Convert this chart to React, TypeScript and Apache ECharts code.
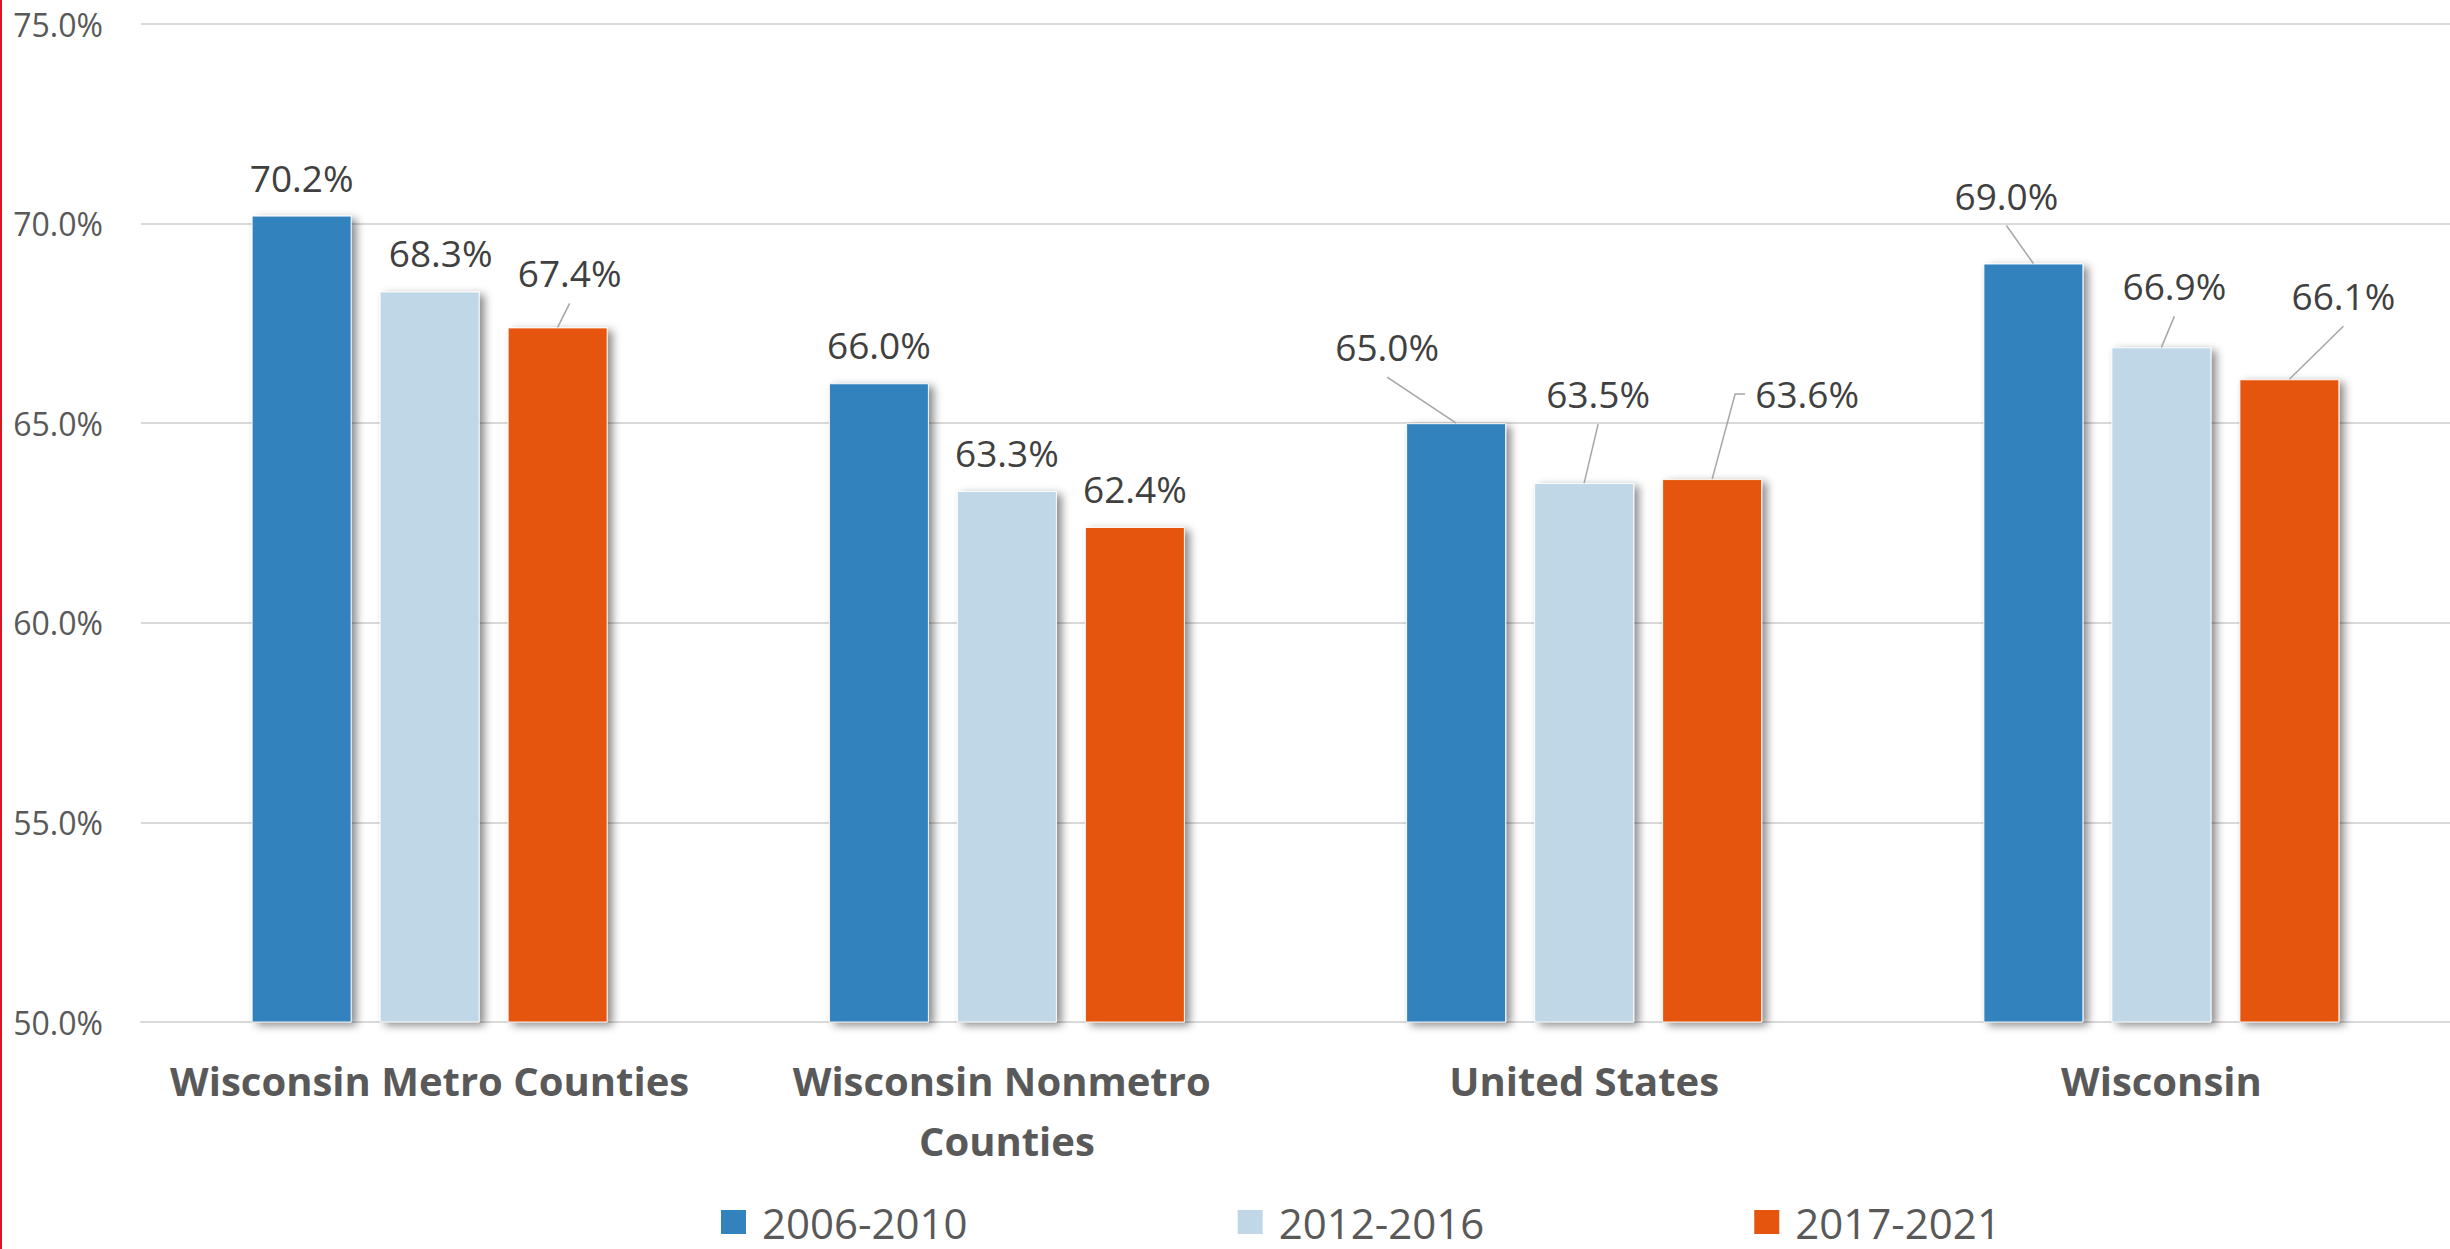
import React, { useEffect, useRef } from "react";
import * as echarts from "echarts";

const categories = [
  "Wisconsin Metro Counties",
  "Wisconsin Nonmetro Counties",
  "United States",
  "Wisconsin",
];
const seriesNames = ["2006-2010", "2012-2016", "2017-2021"];
const values2006_2010 = [70.2, 66.0, 65.0, 69.0];
const values2012_2016 = [68.3, 63.3, 63.5, 66.9];
const values2017_2021 = [67.4, 62.4, 63.6, 66.1];
const yTicks = { min: 50, max: 75, interval: 5 };

const seriesColors = ["#3182BD", "#BFD7E6", "#E6550D"];
// label displacement (dx, dy) and leader kind (0 none, 1 straight, 2 elbow), per series / category
const labelShift = [
  [[0, 0, 0], [0, 0, 0], [-69, -38, 1], [-27, -30, 1]],
  [[11, 0, 0], [0, 0, 0], [14, -51, 1], [13, -23, 1]],
  [[12, -16, 1], [0, 0, 0], [95, -47, 2], [54, -45, 1]],
];
const BAR_WIDTH = 100;
const BAR_GAP = 28;

export default function App() {
  const ref = useRef<HTMLDivElement>(null);
  useEffect(() => {
    if (!ref.current) return;
    const chart = echarts.init(ref.current, null, { renderer: "svg" });
    const allValues = [values2006_2010, values2012_2016, values2017_2021];
    const series: any[] = allValues.map((vals, si) => ({
      name: seriesNames[si],
      type: "bar",
      barWidth: BAR_WIDTH,
      barGap: (BAR_GAP / BAR_WIDTH) * 100 + "%",
      itemStyle: {
        color: seriesColors[si],
        borderColor: "rgba(255,255,255,0.9)",
        borderWidth: 1,
        shadowColor: "rgba(0,0,0,0.45)",
        shadowBlur: 8,
        shadowOffsetX: 5,
        shadowOffsetY: 3,
      },
      label: {
        show: true,
        position: "top",
        distance: 20,
        fontSize: 37,
        color: "#404040",
        fontFamily: "Open Sans",
        formatter: (p: any) => Number(p.value).toFixed(1) + "%",
      },
      labelLayout: (p: any) => {
        const s = labelShift[p.seriesIndex][p.dataIndex];
        return { dx: s[0], dy: s[1] };
      },
      data: vals,
    }));

    // leader lines from displaced labels to their bar tops
    const leaderData: any[] = [];
    allValues.forEach((vals, si) =>
      vals.forEach((v, ci) => {
        const s = labelShift[si][ci];
        if (s[2] !== 0) leaderData.push([ci, v, si, s[0], s[1], s[2]]);
      })
    );
    series.push({
      name: "leaders",
      type: "custom",
      silent: true,
      clip: false,
      z: 5,
      encode: { x: 0, y: 1 },
      data: leaderData,
      renderItem: (params: any, api: any) => {
        const ci = api.value(0);
        const v = api.value(1);
        const si = api.value(2);
        const dx = api.value(3);
        const dy = api.value(4);
        const kind = api.value(5);
        const p = api.coord([ci, v]);
        const bx = p[0] + (si - 1) * (BAR_WIDTH + BAR_GAP);
        const by = p[1];
        let points;
        if (kind === 1) {
          points = [[bx + dx, by + dy - 8], [bx, by]];
        } else {
          const sx = bx + dx - 62;
          const sy = by + dy - 38;
          points = [[sx, sy], [sx - 10, sy], [bx, by]];
        }
        return {
          type: "polyline",
          shape: { points },
          style: { stroke: "#A6A6A6", lineWidth: 1.5, fill: "none" },
        };
      },
    });

    chart.setOption({
      animation: false,
      backgroundColor: "#ffffff",
      textStyle: { fontFamily: "Open Sans" },
      grid: { left: 141, right: -4, top: 24, bottom: 227, containLabel: false },
      legend: {
        data: seriesNames,
        left: 721,
        top: 1201,
        padding: 0,
        icon: "rect",
        itemWidth: 25,
        itemHeight: 24,
        itemGap: 270,
        itemStyle: { shadowBlur: 0, shadowOffsetX: 0, shadowOffsetY: 0, borderWidth: 0 },
        textStyle: {
          fontSize: 42,
          color: "#595959",
          fontFamily: "Open Sans",
          padding: [0, 0, 0, 11],
        },
      },
      xAxis: {
        type: "category",
        data: categories,
        axisLine: { show: true, lineStyle: { color: "#D9D9D9", width: 2 } },
        axisTick: { show: false },
        axisLabel: {
          interval: 0,
          fontSize: 40,
          fontWeight: "bold",
          color: "#595959",
          fontFamily: "Open Sans",
          lineHeight: 60,
          margin: 28,
          width: 545,
          overflow: "break",
        },
      },
      yAxis: {
        type: "value",
        min: yTicks.min,
        max: yTicks.max,
        interval: yTicks.interval,
        axisLine: { show: false },
        axisTick: { show: false },
        splitLine: { lineStyle: { color: "#D9D9D9", width: 2 } },
        axisLabel: {
          fontSize: 32,
          color: "#595959",
          fontFamily: "Open Sans",
          margin: 38,
          formatter: (v: number) => v.toFixed(1) + "%",
        },
      },
      graphic: [
        {
          type: "rect",
          left: 0,
          top: 0,
          shape: { x: 0, y: 0, width: 2, height: 1249 },
          style: { fill: "#E0141E" },
        },
      ],
      series,
    });
    return () => chart.dispose();
  }, []);
  return (
    <div
      ref={ref}
      style={{ position: "absolute", left: 0, top: 0, width: 2450, height: 1249 }}
    />
  );
}
